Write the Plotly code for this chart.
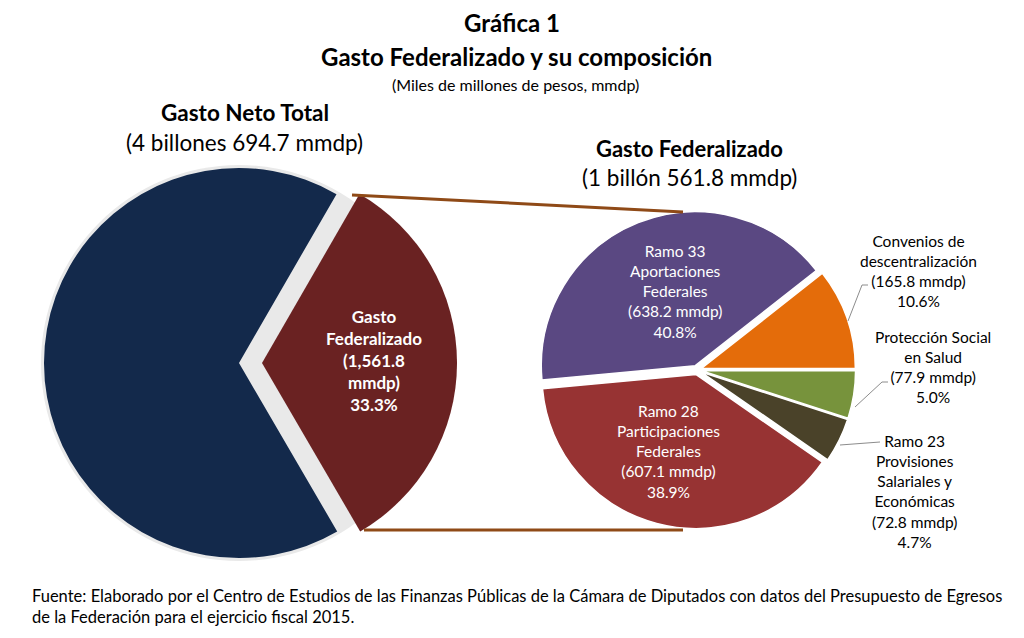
import plotly.graph_objects as go

# ---- data ----
total_labels = ["Gasto Federalizado", "Resto del Gasto Neto Total"]
total_values = [1561.8, 3132.9]
total_colors = ["#6a2222", "#13294b"]

fed_labels = ["Convenios de<br>descentralización", "Protección Social<br>en Salud",
              "Ramo 23<br>Provisiones<br>Salariales y<br>Económicas",
              "Ramo 28<br>Participaciones<br>Federales", "Ramo 33<br>Aportaciones<br>Federales"]
fed_values = [165.8, 77.9, 72.8, 607.1, 638.2]
fed_pct = [10.6, 5.0, 4.7, 38.9, 40.8]
fed_colors = ["#e46c0a", "#77933c", "#4a4229", "#973333", "#5a4882"]

# page has an 8px body margin: figure fills the rest of the 1024x638 window
OFF = 8
W, H = 1024 - OFF, 638 - OFF
def px(x): return (x - OFF) / W
def py(y): return 1 - (y - OFF) / H

FONT = "Lato"

fig = go.Figure()

# left pie: Gasto Neto Total
lc, lr, lpull = (239, 363), 195, 0.118
lh = lr * (1 + lpull)
fig.add_trace(go.Pie(
    labels=total_labels, values=total_values, sort=False, direction="clockwise",
    rotation=30, pull=[lpull, 0], marker=dict(colors=total_colors, line=dict(width=0)),
    textinfo="none", hoverinfo="label+value", showlegend=False,
    domain=dict(x=[px(lc[0] - lh), px(lc[0] + lh)], y=[py(lc[1] + lh), py(lc[1] - lh)])))

# right pie: Gasto Federalizado
rc, rr, rpull = (697, 370), 154, 0.03
rh = rr * (1 + rpull)
fig.add_trace(go.Pie(
    labels=fed_labels, values=fed_values, sort=False, direction="clockwise",
    rotation=51.8, pull=[rpull] * 5,
    marker=dict(colors=fed_colors, line=dict(color="white", width=1.5)),
    textinfo="none", hoverinfo="label+value", showlegend=False,
    domain=dict(x=[px(rc[0] - rh), px(rc[0] + rh)], y=[py(rc[1] + rh), py(rc[1] - rh)])))

shapes = []
# soft shadow disk behind the left pie
shapes.append(dict(type="circle", xref="paper", yref="paper", layer="below",
                   x0=px(lc[0] - lr - 3), x1=px(lc[0] + lr + 3),
                   y0=py(lc[1] + lr + 3), y1=py(lc[1] - lr - 3),
                   fillcolor="#e9e9e9", line=dict(width=0)))
# connector lines
brown = "#8f4a17"
shapes.append(dict(type="line", xref="paper", yref="paper", x0=px(352), y0=py(195), x1=px(683), y1=py(212),
                   line=dict(color=brown, width=3)))
shapes.append(dict(type="line", xref="paper", yref="paper", x0=px(364), y0=py(530), x1=px(683), y1=py(530),
                   line=dict(color=brown, width=3)))
# leader lines
gray = "#8c8c8c"
for pts in [[(848, 321), (862, 285), (868, 285)],
            [(855, 407), (882, 382), (888, 382)],
            [(840, 445), (880, 442)]]:
    path = "M " + " L ".join(f"{px(x)},{py(y)}" for x, y in pts)
    shapes.append(dict(type="path", xref="paper", yref="paper", path=path,
                       line=dict(color=gray, width=1)))

ann = []
def text(x, y, t, size, color="black", bold=False, align="center", xanchor="center"):
    if bold:
        t = "<b>" + t + "</b>"
    ann.append(dict(x=px(x), y=py(y), xref="paper", yref="paper", text=t, showarrow=False,
                    font=dict(family=FONT, size=size, color=color), align=align,
                    xanchor=xanchor, yanchor="middle"))

text(512, 22, "Gráfica 1", 24, bold=True)
text(516, 57, "Gasto Federalizado y su composición", 24, bold=True)
text(515, 84, "(Miles de millones de pesos, mmdp)", 16)
text(245, 113, "Gasto Neto Total", 22.5, bold=True)
text(244, 142, "(4 billones 694.7 mmdp)", 22.5)
text(689, 148, "Gasto Federalizado", 22, bold=True)
text(689, 178, "(1 billón 561.8 mmdp)", 22.5)

# left pie label
text(374, 360, "Gasto<br>Federalizado<br>(1,561.8<br>mmdp)<br>%.1f%%" % (100 * total_values[0] / sum(total_values)),
     17, color="white", bold=True)

# right pie labels
def fed_lab(i):
    return f"{fed_labels[i]}<br>({fed_values[i]:.1f} mmdp)<br>{fed_pct[i]:.1f}%"
text(675, 291, fed_lab(4), 15.5, color="white")
text(668, 451, fed_lab(3), 15.5, color="white")
text(918, 271, fed_lab(0), 15.5)
text(933, 367, fed_lab(1), 15.5)
text(914, 491, fed_lab(2), 15.5)

# footnote
ann.append(dict(x=px(30), y=py(606), xref="paper", yref="paper", showarrow=False,
                xanchor="left", yanchor="middle", align="left",
                text="Fuente: Elaborado por el Centro de Estudios de las Finanzas Públicas de la Cámara de Diputados con datos del Presupuesto de Egresos<br>de la Federación para el ejercicio fiscal 2015.",
                font=dict(family=FONT, size=16.5, color="black")))

fig.update_layout(width=W, height=H, margin=dict(l=0, r=0, t=0, b=0),
                  paper_bgcolor="white", plot_bgcolor="white",
                  shapes=shapes, annotations=ann, showlegend=False)
fig.write_html("out.html")
